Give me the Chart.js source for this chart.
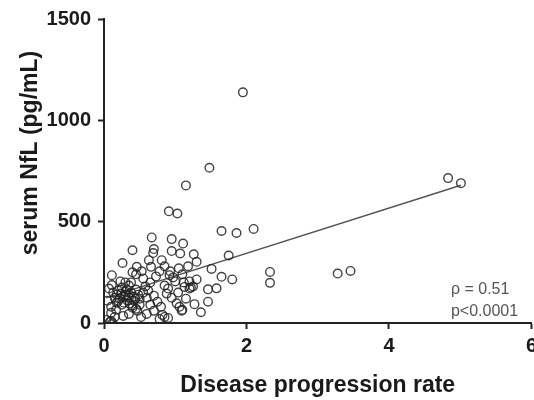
<!DOCTYPE html>
<html>
<head>
<meta charset="utf-8">
<script src="https://cdn.jsdelivr.net/npm/chart.js@4"></script>
<style>
  html, body { margin: 0; padding: 0; background: #fff; overflow: hidden; }
  #wrap { width: 542px; height: 400px; }
</style>
</head>
<body>
<div id="wrap"><canvas id="nfl_chart"></canvas></div>
<script>
// disease progression rate (x) and serum NfL pg/mL (y)
var rateValues = [1.95, 1.48, 1.15, 0.91, 1.03, 1.65, 1.86, 2.10, 1.75, 1.51,
    1.65, 1.80, 2.33, 2.33, 3.28, 3.46, 4.83, 5.01, 0.40, 0.67,
    0.95, 1.11, 0.70, 0.69, 0.95, 1.07, 1.26, 1.30, 0.26, 0.81,
    0.63, 0.66, 0.46, 0.11, 0.11, 1.46, 1.58, 1.46, 1.27, 1.36,
    0.92, 1.13, 1.20, 1.25, 1.02, 1.09, 0.80, 0.85, 0.78, 0.50,
    0.45, 0.40, 0.03, 0.08, 0.15, 0.53, 0.45, 0.40, 0.23, 0.30,
    0.55, 0.65, 0.93, 0.97, 1.00, 1.12, 1.20, 1.30, 0.85, 0.90,
    0.13, 0.30, 0.35, 0.42, 0.28, 0.55, 0.50, 0.60, 0.88, 0.95,
    1.04, 1.15, 1.22, 0.10, 0.17, 0.10, 0.40, 0.47, 0.65, 1.06,
    1.10, 0.82, 0.90, 0.10, 0.12, 0.20, 0.25, 0.32, 0.35, 0.38,
    0.28, 0.22, 0.33, 0.45, 0.48, 0.38, 0.18, 0.25, 0.05, 0.07,
    0.58, 0.62, 0.70, 0.75, 0.73, 0.78, 0.85, 1.05, 1.18, 1.10,
    0.60, 0.70, 0.52, 0.35, 0.27, 0.18, 0.42, 0.36, 0.30, 0.24,
    0.44, 0.20, 0.34, 0.15];
var nflValues = [1138, 766, 679, 551, 540, 454, 444, 464, 333, 267,
    228, 215, 252, 198, 244, 257, 715, 690, 359, 422,
    414, 392, 365, 345, 355, 343, 339, 302, 296, 310,
    310, 277, 277, 236, 187, 166, 171, 105, 93, 53,
    236, 178, 170, 180, 97, 61, 80, 30, 20, 90,
    70, 75, 15, 5, 30, 255, 240, 250, 205, 200,
    220, 200, 255, 225, 205, 200, 205, 215, 185, 170,
    150, 140, 125, 110, 100, 150, 120, 125, 145, 125,
    150, 120, 175, 80, 65, 50, 85, 60, 90, 80,
    65, 40, 25, 10, 0, 160, 175, 165, 185, 150,
    130, 120, 110, 165, 140, 200, 140, 90, 110, 170,
    180, 160, 135, 105, 230, 255, 280, 270, 280, 240,
    45, 60, 30, 45, 35, 100, 130, 95, 155, 145,
    120, 110, 135, 125];

// linear fit drawn over the data range
var fitX = [0.03, 5.01];
var fitY = [124, 680];

var xTicks = [0, 2, 4, 6];
var yTicks = [0, 500, 1000, 1500];
var yTitle = 'serum NfL (pg/mL)';
var statsText = ['\u03c1 = 0.51', 'p<0.0001'];

var points = rateValues.map(function (x, i) { return { x: x, y: nflValues[i] }; });
var fitLine = fitX.map(function (x, i) { return { x: x, y: fitY[i] }; });

Chart.defaults.font.family = '"Liberation Sans", Arial, sans-serif';
Chart.defaults.color = '#1a1a1a';

// p-value box and the y title (placed a bit above the axis middle, like the original)
var textPlugin = {
    id: 'extraText',
    afterDatasetsDraw: function (chart) {
        var ctx = chart.ctx;
        var area = chart.chartArea;
        var xLeft = chart.scales.x.getPixelForValue(4.87);
        ctx.save();
        ctx.font = '16px "Liberation Sans", Arial, sans-serif';
        ctx.fillStyle = '#555';
        ctx.textAlign = 'left';
        ctx.textBaseline = 'middle';
        ctx.fillText(statsText[0], xLeft, area.bottom - 33);
        ctx.fillText(statsText[1], xLeft, area.bottom - 11);

        ctx.translate(31, area.top + 134);
        ctx.rotate(-Math.PI / 2);
        ctx.font = 'bold 23px "Liberation Sans", Arial, sans-serif';
        ctx.fillStyle = '#1a1a1a';
        ctx.textAlign = 'center';
        ctx.fillText(yTitle, 0, 0);
        ctx.restore();
    }
};

new Chart(document.getElementById('nfl_chart').getContext('2d'), {
    type: 'scatter',
    data: {
        datasets: [{
            label: 'NfL',
            data: points,
            pointStyle: 'circle',
            pointRadius: 4.3,
            pointBorderWidth: 1.4,
            pointBorderColor: 'rgba(35,35,35,0.85)',
            pointBackgroundColor: 'rgba(0,0,0,0)'
        }, {
            label: 'fit',
            type: 'line',
            data: fitLine,
            borderColor: '#555',
            borderWidth: 1.5,
            pointRadius: 0,
            fill: false
        }]
    },
    options: {
        responsive: true,
        maintainAspectRatio: false,
        animation: false,
        layout: { padding: { top: 18, left: 0, right: 0, bottom: 0 } },
        plugins: {
            legend: { display: false },
            tooltip: { enabled: false }
        },
        scales: {
            x: {
                type: 'linear',
                min: 0,
                max: 6,
                afterBuildTicks: function (scale) {
                    scale.ticks = xTicks.map(function (v) { return { value: v }; });
                },
                afterFit: function (scale) { scale.height = 77; },
                grid: { drawOnChartArea: false, drawTicks: true, tickLength: 6, tickWidth: 2, color: '#222' },
                border: { display: true, color: '#222', width: 2 },
                ticks: {
                    font: { size: 20, weight: 'bold' },
                    padding: 5,
                    color: '#1a1a1a',
                    callback: function (v) { return String(v); }
                },
                title: {
                    display: true,
                    text: 'Disease progression rate',
                    font: { size: 23, weight: 'bold' },
                    color: '#1a1a1a',
                    padding: { top: 2, bottom: 1 }
                }
            },
            y: {
                type: 'linear',
                min: 0,
                max: 1500,
                afterBuildTicks: function (scale) {
                    scale.ticks = yTicks.map(function (v) { return { value: v }; });
                },
                afterFit: function (scale) { scale.width = 104; },
                grid: { drawOnChartArea: false, drawTicks: true, tickLength: 6, tickWidth: 2, color: '#222' },
                border: { display: true, color: '#222', width: 2 },
                ticks: {
                    font: { size: 20, weight: 'bold' },
                    padding: 7,
                    color: '#1a1a1a',
                    callback: function (v) { return String(v); }
                }
            }
        }
    },
    plugins: [textPlugin]
});
</script>
</body>
</html>
